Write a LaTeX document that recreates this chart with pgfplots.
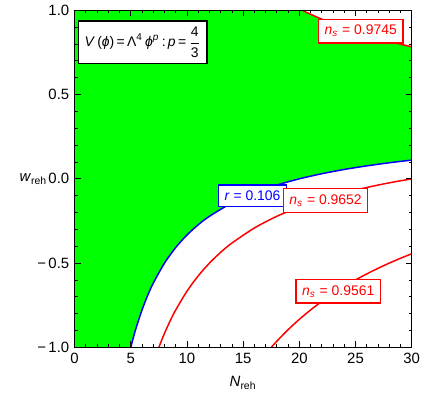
\documentclass[border=0pt]{standalone}
\usepackage{fontspec}
\setmainfont{Liberation Sans}
\usepackage{amsmath}
\usepackage{pgfplots}
\pgfplotsset{compat=1.18}
\definecolor{mgreen}{RGB}{0,255,0}
\definecolor{mred}{RGB}{255,0,0}
\definecolor{mblue}{RGB}{0,0,255}

% r = 0.106 boundary
\pgfplotstableread{
N w
5 -1
5.25 -0.9365
5.5 -0.8788
6 -0.7778
6.5 -0.6923
7 -0.6190
8 -0.5
9 -0.4074
10 -0.3333
11 -0.2727
12 -0.2222
14 -0.1429
16 -0.0833
18 -0.0370
20 0
22 0.0303
24 0.0556
26 0.0769
28 0.0952
30 0.1111
}\rcurve
% n_s = 0.9652
\pgfplotstableread{
N w
7.5 -1
7.75 -0.957
8 -0.9167
8.5 -0.8431
9 -0.7778
10 -0.6667
11 -0.5758
12 -0.5
13 -0.4359
14 -0.3810
16 -0.2917
18 -0.2222
20 -0.1667
22 -0.1212
24 -0.0833
26 -0.0513
28 -0.0238
30 0
}\nsmid
% n_s = 0.9561
\pgfplotstableread{
N w
17.5 -1
18 -0.9630
19 -0.8947
20 -0.8333
21 -0.7778
22 -0.7273
23 -0.6812
24 -0.6389
25 -0.6
26 -0.5641
27 -0.5309
28 -0.5
29 -0.4713
30 -0.4444
}\nslow
% n_s = 0.9745
\pgfplotstableread{
N w
20.25 1
21 0.9762
22 0.9470
23 0.9203
24 0.8958
25 0.8733
26 0.8526
27 0.8333
28 0.8155
29 0.7989
30 0.7833
}\nshigh

\begin{document}
\fontsize{7.5}{9}\selectfont
\begin{tikzpicture}[
    box/.style={fill=white, line width=0.75pt, inner xsep=3pt, inner ysep=3pt,
        font=\fontsize{7}{8.5}\selectfont},
]
\begin{axis}[
    scale only axis,
    width=169.5pt, height=169.5pt,
    xmin=0, xmax=30, ymin=-1, ymax=1,
    xtick={0,5,...,30}, xticklabels={0,5,10,15,20,25,30},
    ytick={-1,-0.5,0,0.5,1}, yticklabels={−\,1.0,−\,0.5,0.0,0.5,1.0},
    minor x tick num=4, minor y tick num=4,
    tick align=inside, tick pos=both,
    major tick length=3pt, minor tick length=1.6pt,
    every tick/.style={black, line width=0.4pt},
    axis line style={line width=0.6pt},
    axis on top,
    xlabel={\textit{N}\textsubscript{reh}},
    ylabel={\textit{w}\textsubscript{reh}},
    every axis x label/.style={at={(axis description cs:0.5,-0.0855)}, anchor=north, inner sep=0pt},
    every axis y label/.style={at={(axis description cs:-0.08,0.5)}, anchor=east, inner sep=0pt},
]
% green allowed region: above r curve, below the n_s = 0.9745 curve
\addplot[fill=mgreen, draw=none] coordinates {
(0,-1) (5,-1) (5.25,-0.9365) (5.5,-0.8788) (6,-0.7778) (6.5,-0.6923) (7,-0.6190)
(8,-0.5) (9,-0.4074) (10,-0.3333) (11,-0.2727) (12,-0.2222) (14,-0.1429)
(16,-0.0833) (18,-0.0370) (20,0) (22,0.0303) (24,0.0556) (26,0.0769) (28,0.0952)
(30,0.1111) (30,0.7833) (29,0.7989) (28,0.8155) (27,0.8333) (26,0.8526) (25,0.8733)
(24,0.8958) (23,0.9203) (22,0.9470) (21,0.9762) (20.25,1) (0,1)
} -- cycle;
\addplot[mblue, line width=0.75pt, smooth] table {\rcurve};
\addplot[mred, line width=0.75pt, smooth] table {\nsmid};
\addplot[mred, line width=0.75pt, smooth] table {\nslow};
\addplot[mred, line width=0.75pt, smooth] table {\nshigh};

\node[box, draw=black] at (axis cs:6.07,0.81)
    {\textit{V}\,(\textit{ϕ})\,=\,Λ\textsuperscript{4}\,\textit{ϕ}\textsuperscript{\textit{p}}\,:\,\textit{p}\,=\,$\dfrac{\text{4}}{\text{3}}$};
\node[box, draw=mred, text=mred] at (axis cs:25.46,0.876)
    {\textit{n}\textsubscript{\textit{s}} = 0.9745};
\node[box, draw=mblue, text=mblue] at (axis cs:15.83,-0.10)
    {\textit{r} = 0.106};
\node[box, draw=mred, text=mred] at (axis cs:22.33,-0.128)
    {\textit{n}\textsubscript{\textit{s}} = 0.9652};
\node[box, draw=mred, text=mred] at (axis cs:23.46,-0.667)
    {\textit{n}\textsubscript{\textit{s}} = 0.9561};
\end{axis}
\path (current axis.south west) ++(-37.5pt,-24pt);
\path (current axis.north east) ++(5.5pt,5pt);
\end{tikzpicture}
\end{document}
